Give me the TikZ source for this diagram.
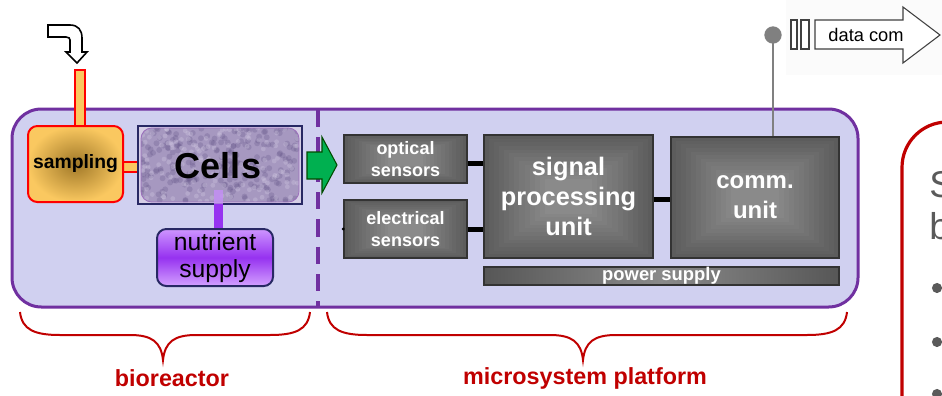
\documentclass[tikz,border=0pt]{standalone}
\usepackage{fontspec}
\setmainfont{Liberation Sans}
\usetikzlibrary{calc}
\definecolor{lav}{RGB}{208,208,240}
\definecolor{purp}{RGB}{112,48,160}
\definecolor{dred}{RGB}{192,0,0}
\definecolor{navy}{RGB}{40,40,100}
\definecolor{cellbg}{RGB}{166,152,192}
\definecolor{celldk}{RGB}{100,84,136}
\definecolor{celllt}{RGB}{214,206,230}
\definecolor{nutlt}{RGB}{206,150,255}
\definecolor{nutdk}{RGB}{150,50,240}
\definecolor{orlt}{RGB}{250,200,96}
\definecolor{ordk}{RGB}{160,120,40}
\definecolor{agreen}{RGB}{0,176,80}
\definecolor{antgrey}{RGB}{128,128,128}
\definecolor{txtgrey}{RGB}{90,90,90}
\begin{document}
\begin{tikzpicture}[x=0.75pt,y=-0.75pt,
  bevel/.style={fill=black!64, draw=black!80, line width=1pt, inner sep=0pt,
    text=white, align=center,
    path picture={
      \foreach \i in {1,...,12}{
        \pgfmathsetmacro\t{0.06*\i}
        \pgfmathsetmacro\c{64-1.5*\i}
        \fill[black!\c] ($(path picture bounding box.south west)!\t!(path picture bounding box.center)$)
          rectangle ($(path picture bounding box.north east)!\t!(path picture bounding box.center)$);
      }}},
  conn/.style={line width=3.75pt, black},
  brace/.style={dred, line width=1.5pt},
  lbl/.style={dred, font=\fontsize{17.5}{20}\selectfont\bfseries},
  pipe/.style={fill=orlt, draw=red, line width=1.2pt}
]
\useasboundingbox (0,0) rectangle (942,396);
\begin{scope}
\clip (0,0) rectangle (942,396);

% data com background
\fill[white!98.5!black] (786,0) rectangle (942,75);

% main container
\draw[purp, line width=2.25pt, fill=lav, rounded corners=22pt] (12,109) rectangle (858,307);
\draw[purp, line width=2.5pt, dash pattern=on 13pt off 7.5pt] (318,110) -- (318,306);

% inlet bent arrow and pipe
\coordinate (inlet) at (80,70);
\draw[fill=white, line width=1.2pt] (48,25) -- (70,25) .. controls (78,25) and (82,30) .. (82,38)
  -- (82,52) -- (87,52) -- (77,63) -- (66,52) -- (70,52) -- (70,40)
  .. controls (70,38.5) and (69,37) .. (66,37) -- (48,37) -- cycle;
\draw[pipe] (75,70) rectangle (85,127);
\draw[pipe] (121,162) rectangle (140,172);

% sampling
\node[draw=red, line width=1.5pt, rounded corners=7pt, inner color=ordk, outer color=orlt,
  minimum width=71.25pt, minimum height=57pt, inner sep=0pt,
  font=\fontsize{14.5}{16}\selectfont\bfseries] (samp) at (75.5,164) {sampling};

% cells
\node[draw=navy, line width=1.5pt, fill=celllt, minimum width=123pt, minimum height=58.5pt, inner sep=0pt] (cellbox) at (220,165) {};
\begin{scope}
  \clip[rounded corners=8pt] (141,128) rectangle (299,202);
  \fill[cellbg] (141,128) rectangle (299,202);
  \pgfmathsetseed{11}
  \foreach \k in {1,...,220}{
    \pgfmathsetmacro\rx{141+158*rnd}
    \pgfmathsetmacro\ry{128+74*rnd}
    \fill[celldk, opacity=0.28] (\rx,\ry) circle (2.2pt);
  }
  \foreach \k in {1,...,160}{
    \pgfmathsetmacro\rx{141+158*rnd}
    \pgfmathsetmacro\ry{128+74*rnd}
    \fill[celllt, opacity=0.3] (\rx,\ry) circle (1.8pt);
  }
\end{scope}
\draw[purp!70, line width=0.6pt, rounded corners=8pt] (141,128) rectangle (299,202);
\node[font=\fontsize{27}{30}\selectfont\bfseries] (cells) at (218,166) {Cells};

% nutrient supply
\fill[nutdk!55, opacity=0.8] (214,190) rectangle (223,204);
\fill[nutdk] (214,204) rectangle (223,230);
\node[draw=navy, line width=1.5pt, rounded corners=7pt, top color=nutlt, bottom color=nutlt!90!white, middle color=nutdk,
  minimum width=87pt, minimum height=42.75pt, inner sep=0pt, align=center,
  font=\fontsize{18.5}{20}\selectfont] (nut) at (215,257.5) {nutrient\\supply};

% green arrow
\draw[fill=agreen, draw=black!70!green, line width=0.8pt] (307,152) -- (322,152) -- (322,137) -- (337,165)
  -- (322,193) -- (322,179) -- (307,179) -- cycle;

% sensors and units
\node[bevel, minimum width=92.25pt, minimum height=36pt, font=\fontsize{13.5}{17}\selectfont\bfseries] (opt) at (405.5,159) {optical\\sensors};
\node[bevel, minimum width=92.25pt, minimum height=43.5pt, font=\fontsize{13.5}{17}\selectfont\bfseries] (ele) at (405.5,229) {electrical\\sensors};
\node[bevel, minimum width=126.75pt, minimum height=92.25pt, font=\fontsize{19}{22.5}\selectfont\bfseries] (spu) at (568.5,196.5) {signal\\processing\\unit};
\node[bevel, minimum width=126pt, minimum height=90.75pt, font=\fontsize{18}{22.5}\selectfont\bfseries] (comm) at (755,197.5) {comm.\\unit};
\node[left color=black!66, right color=black!66, middle color=black!46, draw=black!80, line width=1pt,
  minimum width=266.25pt, minimum height=13.5pt, inner sep=0pt, text=white,
  font=\fontsize{13.8}{14}\selectfont\bfseries] (pow) at (661.5,276) {power supply};

\fill (ele.west) circle (1.2pt);
\draw[conn] ([yshift=-3pt]opt.east) -- ([yshift=-3pt]opt.east -| spu.west);
\draw[conn] (ele.east) -- (ele.east -| spu.west);
\draw[conn] ([yshift=-2.5pt]spu.east) -- ([yshift=-2.5pt]spu.east -| comm.west);

% antenna
\coordinate (ant) at (773,35);
\draw[antgrey, line width=2.2pt] (ant) -- (ant |- comm.north);
\fill[antgrey] (ant) circle (6.5pt);

% data com arrow
\draw[black!75, line width=0.8pt, fill=white] (791,20) rectangle (797,49);
\draw[black!75, line width=0.8pt, fill=white] (801,20) rectangle (809,49);
\draw[black!75, line width=0.8pt, fill=white] (815,20) -- (903,20) -- (903,7) -- (940,35) -- (903,63) -- (903,49) -- (815,49) -- cycle;
\node[font=\fontsize{13.7}{15}\selectfont] (dc) at (866,35) {data com};

% braces
\draw[brace] (20,312) .. controls (22,330) and (35,335) .. (60,335) -- (130,335)
  .. controls (152,335) and (161,342) .. (163,360)
  .. controls (165,342) and (174,335) .. (196,335) -- (270,335)
  .. controls (295,335) and (308,330) .. (310,312);
\draw[brace] (327,312) .. controls (329,330) and (342,335) .. (367,335) -- (550,335)
  .. controls (572,335) and (581,342) .. (583,360)
  .. controls (585,342) and (594,335) .. (616,335) -- (807,335)
  .. controls (832,335) and (845,330) .. (847,312);
\node[lbl] (bio) at (172,378) {bioreactor};
\node[lbl] (micro) at (585,378) {microsystem platform};

% right box (cut off at the picture's edge, as in the reference)
\draw[dred, line width=2.4pt, rounded corners=34pt] (902,500) -- (902,122) -- (1100,122);
\node[anchor=base west, text=txtgrey, font=\fontsize{28}{30}\selectfont, inner sep=0pt] (s1) at (929,197) {S};
\node[anchor=base west, text=txtgrey, font=\fontsize{28}{30}\selectfont, inner sep=0pt] (s2) at (929,239) {b};
\foreach \yy [count=\n] in {288,342,394}{
  \fill[txtgrey] (937,\yy) circle (3.8pt);
}
\end{scope}
\end{tikzpicture}
\end{document}
